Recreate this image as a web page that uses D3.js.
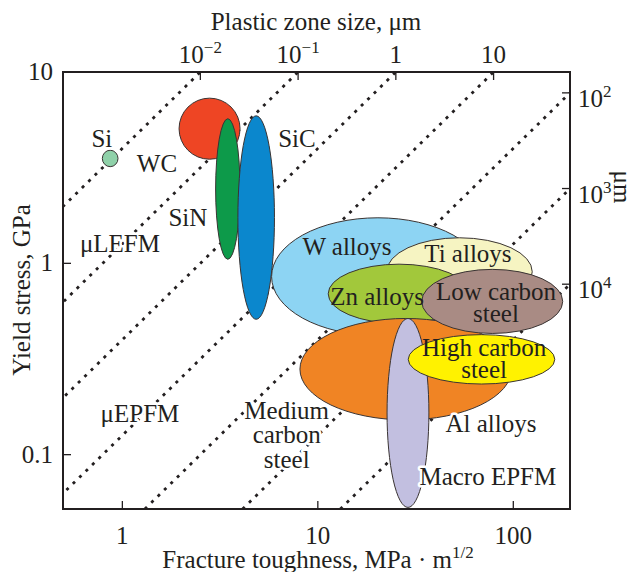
<!DOCTYPE html>
<html>
<head>
<meta charset="utf-8">
<script src="https://cdn.jsdelivr.net/npm/d3@7"></script>
<style>
  html, body { margin: 0; padding: 0; background: #fff; }
  svg { display: block; }
  text { font-family: "Liberation Serif", "Times New Roman", serif; fill: #231f20; }
</style>
</head>
<body>
<svg id="chart" width="637" height="572"></svg>
<script>
// Fracture toughness (MPa·m^1/2) and yield stress (GPa) axes
const toughnessTicks = [1, 10, 100];
const stressTicks = [0.1, 1, 10];
const toughnessDomain = [0.497, 195];
const stressDomain = [0.052, 10];

// Plastic zone size iso-lines, r = (K / σ)^2 / (2π), in µm
const zoneSizes = [1e-2, 1e-1, 1, 10, 100, 1000, 10000];
const zoneTopTicks = [1e-2, 1e-1, 1, 10];
const zoneTopLabels = [["10", "−2"], ["10", "−1"], ["1", ""], ["10", ""]];
const zoneRightTicks = [100, 1000, 10000];
const zoneRightLabels = [["10", "2"], ["10", "3"], ["10", "4"]];

// Material property regions: toughness range and yield stress range
const regionNames = ["Si", "WC", "SiN", "SiC", "W alloys", "Ti alloys", "Zn alloys",
                     "Al alloys", "Low carbon steel", "Macro EPFM", "High carbon steel"];
const kLow  = [0.79, 1.95, 3.0, 3.9, 5.8, 22.5, 11.3, 8.1, 34, 22.6, 29];
const kHigh = [0.95, 4.0, 4.0, 6.0, 71, 125, 60, 98, 179, 37, 163];
const sLow  = [3.2, 3.5, 1.05, 0.51, 0.42, 0.6, 0.485, 0.152, 0.43, 0.053, 0.234];
const sHigh = [3.9, 7.3, 5.7, 5.9, 1.73, 1.36, 0.99, 0.515, 0.93, 0.515, 0.424];
const regionFills = ["#8fd1a9", "#ee4524", "#0d9a4a", "#0b87cd", "#8dd4f3", "#f6f4c2",
                     "#a2c83b", "#f08424", "#a98b84", "#c2bfe0", "#fff200"];

// Text annotations, anchored at (toughness, stress)
const labelLines = [["Si"], ["WC"], ["SiC"], ["SiN"], ["μLEFM"], ["μEPFM"], ["W alloys"],
                    ["Ti alloys"], ["Zn alloys"], ["Low carbon", "steel"], ["High carbon", "steel"],
                    ["Al alloys"], ["Macro EPFM"], ["Medium", "carbon", "steel"]];
const labelK = [0.786, 1.503, 7.82, 2.165, 0.972, 1.23, 14.1, 58.6, 20.1, 81.5, 70.9, 76.8, 74.1, 6.93];
const labelS = [4.06, 3.00, 4.06, 1.567, 1.146, 0.148, 1.105, 1.016, 0.605, 0.643, 0.3277, 0.1313, 0.0693, 0.1535];
const labelLeading = [1, 1, 1, 1, 1, 1, 1, 1, 1, 0.86, 0.86, 1, 1, 0.97];
const labelHalo = [true, true, true, true, true, true, false, false, false, false, false, true, true, true];

const plot = { left: 63, right: 570, top: 72, bottom: 509 };
const svg = d3.select("#chart");

const x = d3.scaleLog().domain(toughnessDomain).range([plot.left, plot.right]);
const y = d3.scaleLog().domain(stressDomain).range([plot.bottom, plot.top]);

// toughness K (MPa·m^1/2) for a given zone size r (µm) and stress (GPa)
const kFor = (r, s) => s * 1000 * Math.sqrt(2 * Math.PI * r * 1e-6);
const sFor = (r, k) => k / Math.sqrt(2 * Math.PI * r * 1e-6) / 1000;

svg.append("defs").append("clipPath").attr("id", "plotClip")
  .append("rect")
  .attr("x", plot.left).attr("y", plot.top)
  .attr("width", plot.right - plot.left).attr("height", plot.bottom - plot.top);

const inner = svg.append("g").attr("clip-path", "url(#plotClip)");

// dotted iso-lines of plastic zone size
inner.selectAll("line.zone")
  .data(zoneSizes)
  .join("line")
  .attr("class", "zone")
  .attr("x1", r => x(kFor(r, stressDomain[0])))
  .attr("y1", y(stressDomain[0]))
  .attr("x2", r => x(kFor(r, stressDomain[1] * 2)))
  .attr("y2", y(stressDomain[1] * 2))
  .attr("stroke", "#231f20")
  .attr("stroke-width", 2.8)
  .attr("stroke-dasharray", "3 6");

// property regions as ellipses in log–log space
const regions = regionNames.map((name, i) => ({
  name, fill: regionFills[i],
  x0: x(kLow[i]), x1: x(kHigh[i]), y0: y(sHigh[i]), y1: y(sLow[i])
}));

inner.selectAll("ellipse.region")
  .data(regions)
  .join("ellipse")
  .attr("class", "region")
  .attr("cx", d => (d.x0 + d.x1) / 2)
  .attr("cy", d => (d.y0 + d.y1) / 2)
  .attr("rx", d => (d.x1 - d.x0) / 2)
  .attr("ry", d => (d.y1 - d.y0) / 2)
  .attr("fill", d => d.fill)
  .attr("stroke", "#3a3433")
  .attr("stroke-width", 1);

// frame
svg.append("rect")
  .attr("x", plot.left).attr("y", plot.top)
  .attr("width", plot.right - plot.left).attr("height", plot.bottom - plot.top)
  .attr("fill", "none").attr("stroke", "#231f20").attr("stroke-width", 2);

const tickLen = 8;
const fontSize = 25;
const supSize = 17;

// bottom axis
const axisBottom = svg.append("g");
axisBottom.selectAll("line").data(toughnessTicks).join("line")
  .attr("x1", d => x(d)).attr("x2", d => x(d))
  .attr("y1", plot.bottom).attr("y2", plot.bottom - tickLen)
  .attr("stroke", "#231f20").attr("stroke-width", 1.3);
axisBottom.selectAll("text").data(toughnessTicks).join("text")
  .attr("x", d => x(d)).attr("y", 544)
  .attr("text-anchor", "middle").attr("font-size", fontSize)
  .text(d => d3.format("d")(d));
const xTitle = svg.append("text").attr("x", 318).attr("y", 568)
  .attr("text-anchor", "middle").attr("font-size", fontSize);
xTitle.append("tspan").text("Fracture toughness, MPa · m");
xTitle.append("tspan").attr("font-size", supSize).attr("dy", -10).text("1/2");

// left axis
const axisLeft = svg.append("g");
axisLeft.selectAll("line").data(stressTicks).join("line")
  .attr("x1", plot.left).attr("x2", plot.left + tickLen)
  .attr("y1", d => y(d)).attr("y2", d => y(d))
  .attr("stroke", "#231f20").attr("stroke-width", 1.3);
axisLeft.selectAll("text").data(stressTicks).join("text")
  .attr("x", 53).attr("y", d => y(d) + 8)
  .attr("text-anchor", "end").attr("font-size", fontSize)
  .text(d => d >= 1 ? d3.format("d")(d) : d3.format(".1f")(d));
svg.append("text")
  .attr("transform", "translate(30,290) rotate(-90)")
  .attr("text-anchor", "middle").attr("font-size", fontSize)
  .text("Yield stress, GPa");

// top axis: plastic zone size where iso-lines meet the top edge
const axisTop = svg.append("g");
axisTop.selectAll("line").data(zoneTopTicks).join("line")
  .attr("x1", r => x(kFor(r, stressDomain[1]))).attr("x2", r => x(kFor(r, stressDomain[1])))
  .attr("y1", plot.top).attr("y2", plot.top + tickLen)
  .attr("stroke", "#231f20").attr("stroke-width", 1.3);
axisTop.selectAll("text").data(zoneTopTicks).join("text")
  .attr("x", r => x(kFor(r, stressDomain[1])))
  .attr("y", 63)
  .attr("text-anchor", "middle").attr("font-size", fontSize)
  .each(function(r, i) {
    const t = d3.select(this);
    const [base, sup] = zoneTopLabels[i];
    t.append("tspan").text(base);
    if (sup) t.append("tspan").attr("font-size", supSize).attr("dy", -10).text(sup);
  });
svg.append("text").attr("x", 316).attr("y", 30)
  .attr("text-anchor", "middle").attr("font-size", fontSize)
  .text("Plastic zone size, μm");

// right axis: plastic zone size where iso-lines meet the right edge
const axisRight = svg.append("g");
axisRight.selectAll("line").data(zoneRightTicks).join("line")
  .attr("x1", plot.right - tickLen).attr("x2", plot.right)
  .attr("y1", r => y(sFor(r, toughnessDomain[1]))).attr("y2", r => y(sFor(r, toughnessDomain[1])))
  .attr("stroke", "#231f20").attr("stroke-width", 1.3);
axisRight.selectAll("text").data(zoneRightTicks).join("text")
  .attr("x", 578)
  .attr("y", r => y(sFor(r, toughnessDomain[1])) + 14)
  .attr("font-size", fontSize)
  .each(function(r, i) {
    const t = d3.select(this);
    const [base, sup] = zoneRightLabels[i];
    t.append("tspan").text(base);
    t.append("tspan").attr("font-size", supSize).attr("dy", -10).text(sup);
  });
svg.append("text")
  .attr("transform", "translate(614,187) rotate(90)")
  .attr("text-anchor", "middle").attr("font-size", fontSize)
  .text("μm");

// annotations
const labels = svg.append("g");
labelLines.forEach((lines, i) => {
  const t = labels.append("text")
    .attr("x", x(labelK[i])).attr("y", y(labelS[i]))
    .attr("text-anchor", "middle").attr("font-size", fontSize);
  if (labelHalo[i]) {
    t.attr("stroke", "#fff").attr("stroke-width", 5).attr("paint-order", "stroke")
     .attr("stroke-linejoin", "round");
  }
  lines.forEach((line, j) => {
    t.append("tspan").attr("x", x(labelK[i]))
      .attr("dy", j === 0 ? 0 : labelLeading[i] + "em").text(line);
  });
});
</script>
</body>
</html>
